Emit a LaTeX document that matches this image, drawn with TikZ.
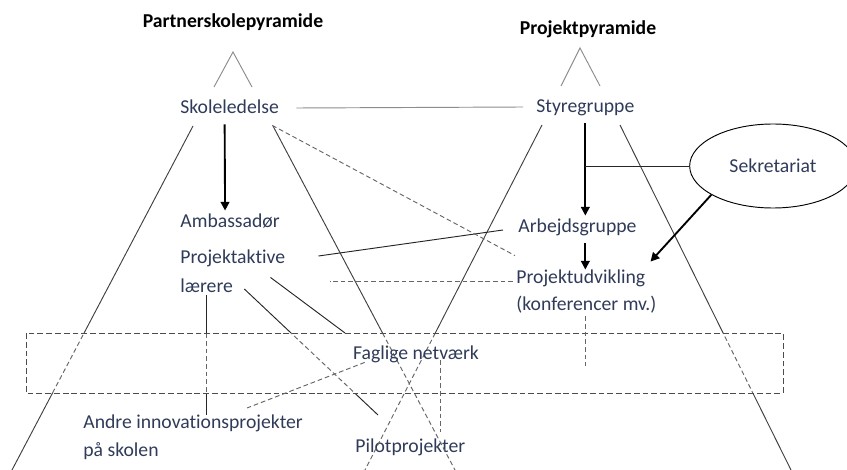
\documentclass[tikz,border=0pt]{standalone}
\usepackage{fontspec}
\setmainfont{Carlito}[Ligatures=NoCommon]
\usetikzlibrary{arrows.meta,calc,shapes.geometric}
\definecolor{navy}{HTML}{2F3B58}
\colorlet{gline}{black!45}
\colorlet{sline}{black!75}

\tikzset{
  lbl/.style={text=navy,inner sep=1pt,anchor=west,text height=11pt,text depth=1pt},
  ttl/.style={inner sep=1pt,font=\fontsize{16.8}{20}\selectfont\bfseries},
  side/.style={draw=sline,line width=0.8pt},
  link/.style={draw=black!85,line width=0.8pt},
  dsh/.style={draw=black!60,line width=0.8pt,dash pattern=on 4pt off 2.5pt},
  arr/.style={draw=black,line width=1.6pt,-{Triangle[length=7.5pt,width=7.5pt]}},
}

\begin{document}
\begin{tikzpicture}[x=0.3mm,y=-0.3mm,font=\fontsize{16.8}{20}\selectfont]
\useasboundingbox (0,0) rectangle (847,470);

\node[ttl] (tpart) at (233,22) {Partnerskolepyramide};
\node[ttl] (tproj) at (588,29) {Projektpyramide};
\draw[gline,line width=0.8pt] (214,87) -- (233,52) -- (252,87);
\draw[gline,line width=0.8pt] (561,86) -- (580,48) -- (600,86);

\node[lbl] (sk) at (179,108) {Skoleledelse};
\node[lbl] (st) at (535,107) {Styregruppe};
\node[lbl] (amb) at (179,222) {Ambassadør};
\node[lbl] (pa) at (179,258) {Projektaktive};
\node[lbl] (lae) at (179,287) {lærere};
\node[lbl] (arb) at (517,227) {Arbejdsgruppe};
\node[lbl] (pu) at (515,278) {Projektudvikling};
\node[lbl] (pu2) at (515,305) {(konferencer mv.)};
\node[lbl] (an) at (82,423) {Andre innovationsprojekter};
\node[lbl] (an2) at (82,451) {på skolen};
\node[lbl] (pil) at (354,447) {Pilotprojekter};
\node[ellipse,draw,line width=0.8pt,text=navy,minimum width=50mm,minimum height=25.2mm] (sek) at (773,166) {Sekretariat};

% pyramidernes sider
\coordinate (pl1) at (193,126); \coordinate (pl2) at (12,470);
\coordinate (pl3) at (273,126); \coordinate (pl4) at (455,470);
\coordinate (pr1) at (542,125); \coordinate (pr2) at (365,470);
\coordinate (pr3) at (620,125); \coordinate (pr4) at (791,470);
\path (pl3) -- (pl4) coordinate[pos=0.602] (pl5);
\path (pr1) -- (pr2) coordinate[pos=0.603] (pr5);
\coordinate (bnw) at (26,333); \coordinate (bse) at (783,393);
\coordinate (c1) at ([shift={(10,2)}]lae.east);
\coordinate (c2) at (378,415);
\coordinate (c3) at (lae.south |- an.north);

\draw[side] (pl1) -- (pl2);
\draw[side] (pl3) -- (pl5);
\draw[side] (pr1) -- (pr5);
\draw[side] (pr3) -- (pr4);
\draw[link] (c1) -- (c2);
\draw[link] (lae.south) -- (c3);

% baandet
\fill[white] (bnw) rectangle (bse);
\begin{scope}
  \clip (bnw) rectangle (bse);
  \draw[dsh] (pl1) -- (pl2);
  \draw[dsh] (pr3) -- (pr4);
  \draw[dsh] (c1) -- (c2);
  \draw[dsh] (lae.south) -- (c3);
\end{scope}
\draw[dsh] (pl5) -- (pl4);
\draw[dsh] (pr5) -- (pr2);
\draw[dsh,draw=black!70,dash pattern=on 5pt off 2.5pt] (bnw) rectangle (bse);

\draw[gline,line width=0.8pt] ([shift={(16,0)}]sk.east) -- ([shift={(-12,0)}]st.west);
\draw[arr] ([shift={(-5,8)}]sk.south) -- ([shift={(-5,-3)}]amb.north);
\draw[arr] ([shift={(0,8)}]st.south) -- ($(st.south |- arb.north)+(0,-3)$);
\draw[arr] ($(st.south |- arb.south)+(0,8)$) -- (st.south |- pu.north);
\draw[link] (sek.west) -- (sek.west -| st.south);
\draw[arr] (sek.205) -- ([shift={(4,-8)}]pu.north east);
\draw[link] ([shift={(32,-2)}]pa.east) -- ([shift={(-14,3)}]arb.west);
\draw[dsh] ([shift={(-8,9)}]sk.south east) -- ([shift={(0,-14)}]pu.north west);
\coordinate (pd) at (330,281);
\draw[dsh] ([shift={(-2,3)}]pu.west) -- (pd);
\coordinate (b1) at (345,333);
\draw[link] ([shift={(-16,11)}]pa.south east) -- (b1);
\draw[dsh] ($(pu2.south -| st.south)+(0,3)$) -- ++(0,50);

\node[lbl,anchor=center] (fn) at (416,354) {Faglige netværk};
\coordinate (ae) at (247,408);
\draw[dsh] ([shift={(13,0)}]fn.south west) -- (ae);
\draw[dsh] ($(fn.south)+(24,-2)$) -- ++(0,72);
\end{tikzpicture}
\end{document}
